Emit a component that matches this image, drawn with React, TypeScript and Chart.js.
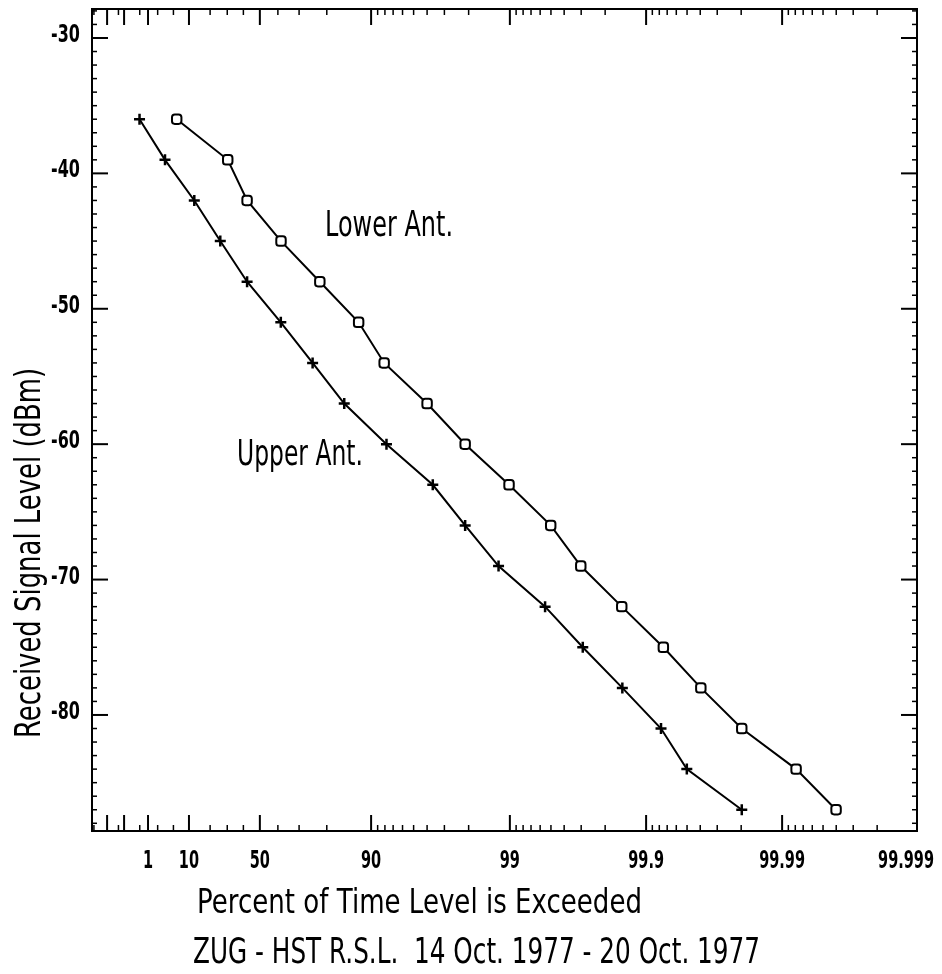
import React, { useEffect, useRef } from "react";
import { Chart, registerables } from "chart.js";

Chart.register(...registerables);

// ---------- data ----------
const levelsDbm = [-36, -39, -42, -45, -48, -51, -54, -57, -60, -63, -66, -69, -72, -75, -78, -81, -84, -87];
const upperAntPercent = [0.49, 3.16, 12.2, 25.8, 42.3, 61.5, 75.3, 84.7, 92.2, 96.36, 97.88, 98.79, 99.448, 99.708, 99.8505, 99.9223, 99.9498, 99.9802];
const lowerAntPercent = [5.88, 30.3, 42.3, 61.6, 77.8, 87.8, 91.9, 96.0, 97.88, 98.986, 99.498, 99.698, 99.849, 99.9253, 99.9604, 99.9802, 99.99211, 99.99599];

const xLabelPercents = [1, 10, 50, 90, 99, 99.9, 99.99, 99.999];
const xTickLabels = ["1", "10", "50", "90", "99", "99.9", "99.99", "99.999"];
const xMajorPercents = [0.01, 0.1, 1, 10, 50, 90, 99, 99.9, 99.99];
const xMinorPercents = [
  0.001, 0.05, 0.5, 2, 5, 20, 30, 40, 60, 70, 80,
  91, 92, 93, 94, 95, 96, 97, 98,
  99.1, 99.2, 99.3, 99.4, 99.5, 99.6, 99.7, 99.8,
  99.91, 99.92, 99.93, 99.94, 99.95, 99.96, 99.97, 99.98,
  99.991, 99.992, 99.993, 99.994, 99.995, 99.996, 99.997, 99.998,
];
const yTickValues = [-30, -40, -50, -60, -70, -80];
const yTickLabels = ["-30", "-40", "-50", "-60", "-70", "-80"];

const xTitle = "Percent of Time Level is Exceeded";
const caption = "ZUG - HST R.S.L.  14 Oct. 1977 - 20 Oct. 1977";
const yTitle = "Received Signal Level (dBm)";
const lowerLabel = "Lower Ant.";
const upperLabel = "Upper Ant.";

// Rayleigh probability-paper transform of "percent of time exceeded"
const rayleigh = (p: number) => -Math.log10(-Math.log(p / 100));

const X_MIN = -1.0753;
const X_MAX = 4.992;
const Y_MIN = -88.57;
const Y_MAX = -27.86;

const FONT = '"DejaVu Sans", "Liberation Sans", sans-serif';

function drawText(
  ctx: CanvasRenderingContext2D,
  text: string,
  x: number,
  y: number,
  o: { size: number; weight?: string; width?: number; sx?: number; align?: CanvasTextAlign; rotate?: number }
) {
  ctx.save();
  ctx.font = `${o.weight || "normal"} ${o.size}px ${FONT}`;
  const natural = ctx.measureText(text).width;
  const sx = o.width ? o.width / natural : o.sx || 1;
  ctx.translate(x, y);
  if (o.rotate) ctx.rotate(o.rotate);
  ctx.scale(sx, 1);
  ctx.textAlign = o.align || "left";
  ctx.textBaseline = "alphabetic";
  ctx.fillStyle = "#000";
  ctx.fillText(text, 0, 0);
  ctx.restore();
  return natural * sx;
}

const plotterPlugin = {
  id: "plotter",
  afterDatasetsDraw(chart: any) {
    const { ctx, chartArea: a, scales } = chart;
    const xs = scales.x;
    const ys = scales.y;
    const seg = (x1: number, y1: number, x2: number, y2: number, w: number) => {
      ctx.lineWidth = w;
      ctx.beginPath();
      ctx.moveTo(x1, y1);
      ctx.lineTo(x2, y2);
      ctx.stroke();
    };
    ctx.save();
    ctx.strokeStyle = "#000";
    ctx.lineCap = "butt";
    // frame
    ctx.lineWidth = 2;
    ctx.strokeRect(a.left, a.top, a.right - a.left, a.bottom - a.top);

    // y ticks, inward on both sides
    for (let v = Math.ceil(Y_MIN); v <= Math.floor(Y_MAX); v++) {
      const py = ys.getPixelForValue(v);
      const major = v % 10 === 0;
      const len = major ? 16 : 5;
      const w = major ? 2 : 1.5;
      seg(a.left, py, a.left + len, py, w);
      seg(a.right, py, a.right - len, py, w);
    }
    // x ticks, inward top & bottom
    xMajorPercents.forEach((p) => {
      const px = xs.getPixelForValue(rayleigh(p));
      seg(px, a.bottom, px, a.bottom - 16, 2);
      seg(px, a.top, px, a.top + 16, 2);
    });
    xMinorPercents.forEach((p) => {
      const px = xs.getPixelForValue(rayleigh(p));
      seg(px, a.bottom, px, a.bottom - 6, 1.5);
      seg(px, a.top, px, a.top + 6, 1.5);
    });
    ctx.restore();

    // tick labels
    const canvasW = chart.width;
    const xsx = 0.58;
    xLabelPercents.forEach((p, i) => {
      let px = xs.getPixelForValue(rayleigh(p));
      ctx.save();
      ctx.font = `bold 25px ${FONT}`;
      const w = ctx.measureText(xTickLabels[i]).width * xsx;
      ctx.restore();
      if (px + w / 2 > canvasW - 8) px = canvasW - 8 - w / 2;
      drawText(ctx, xTickLabels[i], px, a.bottom + 37, { size: 25, weight: "bold", sx: xsx, align: "center" });
    });
    yTickValues.forEach((v, i) => {
      const py = ys.getPixelForValue(v);
      drawText(ctx, yTickLabels[i], a.left - 12, py + 4, { size: 25, weight: "bold", sx: 0.64, align: "right" });
    });

    // titles
    drawText(ctx, xTitle, 197, a.bottom + 82, { size: 34, width: 445 });
    drawText(ctx, caption, 193, a.bottom + 132, { size: 36, width: 567 });
    drawText(ctx, yTitle, 40, (a.top + a.bottom) / 2 + 133, { size: 35, width: 370, align: "center", rotate: -Math.PI / 2 });

    // curve labels
    drawText(ctx, lowerLabel, 325, 236, { size: 35, width: 128 });
    drawText(ctx, upperLabel, 237, 465, { size: 35, width: 126 });
  },
};

export default function App() {
  const ref = useRef<HTMLCanvasElement | null>(null);
  useEffect(() => {
    if (!ref.current) return;
    const chart = new Chart(ref.current, {
      type: "line",
      data: {
        datasets: [
          {
            label: upperLabel,
            data: upperAntPercent.map((p, i) => ({ x: rayleigh(p), y: levelsDbm[i] })),
            borderColor: "#000",
            borderWidth: 2,
            pointStyle: "cross",
            pointRadius: 5.5,
            pointBorderWidth: 2.5,
            pointBorderColor: "#000",
            pointBackgroundColor: "#000",
            fill: false,
            tension: 0,
          },
          {
            label: lowerLabel,
            data: lowerAntPercent.map((p, i) => ({ x: rayleigh(p), y: levelsDbm[i] })),
            borderColor: "#000",
            borderWidth: 2,
            pointStyle: "rectRounded",
            pointRadius: 5.5,
            pointBorderWidth: 2,
            pointBorderColor: "#000",
            pointBackgroundColor: "#fff",
            fill: false,
            tension: 0,
          },
        ],
      },
      options: {
        responsive: false,
        animation: false,
        events: [],
        layout: { padding: { left: 92, top: 9, right: 25, bottom: 143 } },
        plugins: { legend: { display: false }, tooltip: { enabled: false }, title: { display: false } },
        scales: {
          x: { type: "linear", min: X_MIN, max: X_MAX, display: false },
          y: { type: "linear", min: Y_MIN, max: Y_MAX, display: false },
        },
      },
      plugins: [plotterPlugin],
    } as any);
    return () => chart.destroy();
  }, []);
  return (
    <div style={{ position: "absolute", left: 0, top: 0, width: 942, height: 974, background: "#fff" }}>
      <canvas ref={ref} width={942} height={974} style={{ display: "block" }} />
    </div>
  );
}
